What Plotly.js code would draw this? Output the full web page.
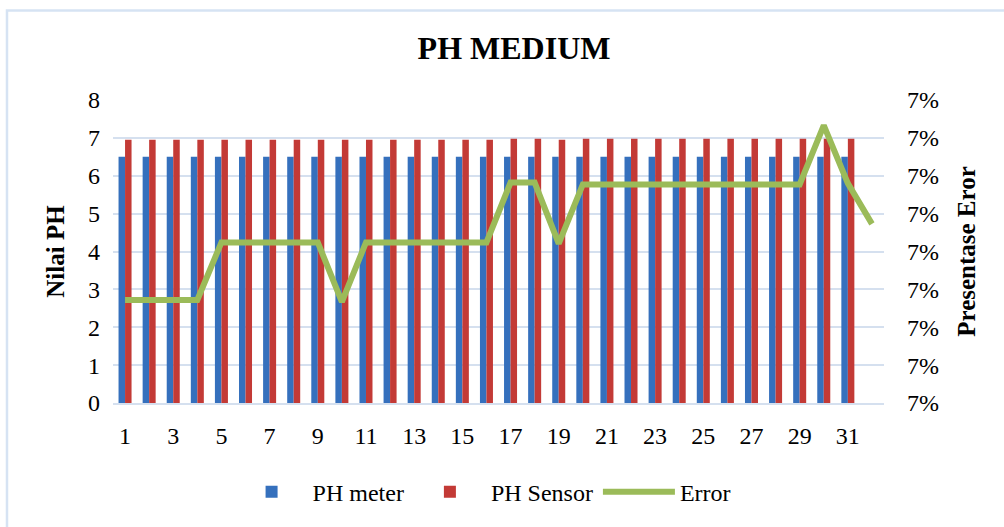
<!DOCTYPE html>
<html>
<head>
<meta charset="utf-8">
<script src="https://cdn.plot.ly/plotly-3.0.1.min.js"></script>
<style>
  html, body { margin: 0; padding: 0; background: #ffffff; }
  #chart { width: 1004px; height: 527px; }
</style>
</head>
<body>
<div id="chart"></div>
<script>
// Categories (measurement number)
const categories = [1,2,3,4,5,6,7,8,9,10,11,12,13,14,15,16,17,18,19,20,21,22,23,24,25,26,27,28,29,30,31,32];
const xTickLabels = [1,3,5,7,9,11,13,15,17,19,21,23,25,27,29,31];

// PH meter readings (31 samples)
const phMeter = [6.5,6.5,6.5,6.5,6.5,6.5,6.5,6.5,6.5,6.5,6.5,6.5,6.5,6.5,6.5,6.5,
                 6.5,6.5,6.5,6.5,6.5,6.5,6.5,6.5,6.5,6.5,6.5,6.5,6.5,6.5,6.5];
// PH sensor readings (31 samples)
const phSensor = [6.95,6.95,6.95,6.95,6.95,6.95,6.95,6.95,6.95,6.95,6.95,6.95,6.95,6.95,6.95,6.95,
                  6.98,6.98,6.95,6.98,6.98,6.98,6.98,6.98,6.98,6.98,6.98,6.98,6.98,6.98,6.98];
// Error percentage (32 points)
const errorPct = [0.070272,0.070272,0.070272,0.070272,0.070424,0.070424,0.070424,0.070424,0.070424,0.070267,
                  0.070424,0.070424,0.070424,0.070424,0.070424,0.070424,0.070582,0.070582,0.070421,0.070577,
                  0.070577,0.070577,0.070577,0.070577,0.070577,0.070577,0.070577,0.070577,0.070577,0.070733,
                  0.070580,0.070473];

const serif = "'Liberation Serif', 'Times New Roman', serif";
const gridCol = '#d5e0ef';

const traces = [
  {
    type: 'bar', name: 'PH meter',
    x: categories.slice(0, phMeter.length), y: phMeter,
    marker: { color: '#3570bd' },
    hoverinfo: 'x+y'
  },
  {
    type: 'bar', name: 'PH Sensor',
    x: categories.slice(0, phSensor.length), y: phSensor,
    marker: { color: '#c33a36' },
    hoverinfo: 'x+y'
  },
  {
    type: 'scatter', mode: 'lines', name: 'Error',
    x: categories, y: errorPct, yaxis: 'y2',
    line: { color: '#9bbb59', width: 6 },
    hoverinfo: 'x+y'
  }
];

const layout = {
  width: 1004, height: 527,
  paper_bgcolor: '#ffffff', plot_bgcolor: '#ffffff',
  margin: { l: 113, r: 120, t: 100, b: 121 },
  font: { family: serif, color: '#000000', size: 24 },
  title: {
    text: '<b>PH MEDIUM</b>',
    font: { family: serif, size: 32, color: '#000000' },
    x: 0.512, xanchor: 'center', y: 0.91, yanchor: 'middle'
  },
  barmode: 'group',
  bargap: 0.46, bargroupgap: 0,
  showlegend: true,
  legend: {
    orientation: 'h', x: 0.48, xanchor: 'center', y: -0.22, yanchor: 'top',
    font: { family: serif, size: 24, color: '#000000' },
    itemwidth: 72, tracegroupgap: 0
  },
  xaxis: {
    range: [0.5, 32.5],
    tickmode: 'array', tickvals: xTickLabels, ticktext: xTickLabels.map(String),
    ticks: '', showgrid: false, zeroline: false,
    showline: true, linecolor: gridCol, linewidth: 2,
    tickfont: { family: serif, size: 24, color: '#000000' },
    ticklabelstandoff: 10,
    fixedrange: true
  },
  yaxis: {
    range: [0, 8], dtick: 1, tick0: 0,
    showgrid: true, gridcolor: gridCol, gridwidth: 2,
    zeroline: false, showline: false, ticks: '',
    tickfont: { family: serif, size: 24, color: '#000000' },
    ticklabelstandoff: 12,
    title: { text: '<b>Nilai PH</b>', font: { family: serif, size: 25, color: '#000000' }, standoff: 16 },
    automargin: false,
    fixedrange: true
  },
  yaxis2: {
    overlaying: 'y', side: 'right',
    range: [0.0700, 0.0708], dtick: 0.0001, tick0: 0.07,
    tickformat: '.0%',
    showgrid: false, zeroline: false, showline: false, ticks: '',
    tickfont: { family: serif, size: 24, color: '#000000' },
    ticklabelstandoff: 22,
    title: { text: '<b>Presentase Eror</b>', font: { family: serif, size: 25, color: '#000000' }, standoff: 19 },
    automargin: false,
    fixedrange: true
  },
  shapes: [
    {
      type: 'rect', xref: 'paper', yref: 'paper',
      x0: -0.1375, x1: 1.3, y0: -0.6, y1: 1.295,
      line: { color: '#d6e3f3', width: 2.5 }, fillcolor: 'rgba(0,0,0,0)', layer: 'below'
    }
  ]
};

Plotly.newPlot('chart', traces, layout, { displayModeBar: false, staticPlot: true });
</script>
</body>
</html>
